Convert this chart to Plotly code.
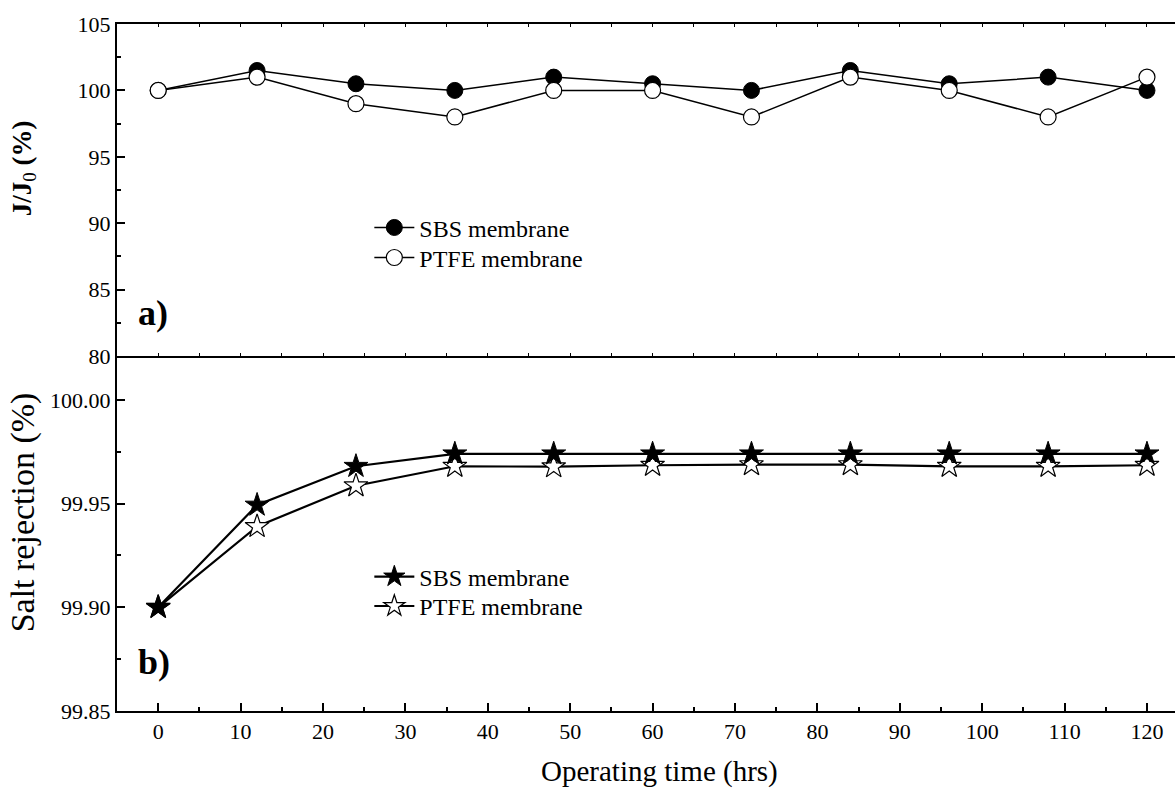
import plotly.graph_objects as go

time_hrs = [0, 12, 24, 36, 48, 60, 72, 84, 96, 108, 120]
flux_sbs = [100, 101.5, 100.5, 100, 101, 100.5, 100, 101.5, 100.5, 101, 100]
flux_ptfe = [100, 101, 99, 98, 100, 100, 98, 101, 100, 98, 101]
rej_sbs = [99.900, 99.9493, 99.968, 99.974, 99.974, 99.974, 99.974, 99.974, 99.974, 99.974, 99.974]
rej_ptfe = [99.900, 99.939, 99.9586, 99.968, 99.9678, 99.9685, 99.9688, 99.9688, 99.968, 99.968, 99.9685]

FONT = "Liberation Serif"

fig = go.Figure()

# top panel
fig.add_trace(go.Scatter(x=time_hrs, y=flux_sbs, mode="lines+markers", name="SBS membrane",
                         line=dict(color="black", width=1.5),
                         marker=dict(symbol="circle", size=16, color="black", line=dict(color="black", width=1)),
                         xaxis="x2", yaxis="y2", legend="legend"))
fig.add_trace(go.Scatter(x=time_hrs, y=flux_ptfe, mode="lines+markers", name="PTFE membrane",
                         line=dict(color="black", width=1.5),
                         marker=dict(symbol="circle", size=16, color="white", line=dict(color="black", width=1.2)),
                         xaxis="x2", yaxis="y2", legend="legend3"))
# bottom panel
fig.add_trace(go.Scatter(x=time_hrs, y=rej_ptfe, mode="lines+markers", name="PTFE membrane",
                         line=dict(color="black", width=2.2),
                         marker=dict(symbol="star", size=18, color="white", line=dict(color="black", width=1.2)),
                         xaxis="x", yaxis="y", legend="legend4"))
fig.add_trace(go.Scatter(x=time_hrs, y=rej_sbs, mode="lines+markers", name="SBS membrane",
                         line=dict(color="black", width=2.2),
                         marker=dict(symbol="star", size=18, color="black", line=dict(color="black", width=1)),
                         xaxis="x", yaxis="y", legend="legend2"))

xr = [-5, 123.4]
tickfont = dict(family=FONT, size=22, color="black")

def leg(y):
    return dict(x=0.2385, y=y, xanchor="left", yanchor="top", bgcolor="rgba(0,0,0,0)",
                font=dict(family=FONT, size=24, color="black"), tracegroupgap=0, itemwidth=40)

fig.update_layout(
    width=1175, height=792,
    margin=dict(l=117, r=0, t=24, b=81),
    plot_bgcolor="white", paper_bgcolor="white",
    font=dict(family=FONT, color="black"),
    xaxis=dict(domain=[0, 1], range=xr, anchor="y", showline=True, linecolor="black", linewidth=2,
               ticks="inside", ticklen=8, tickwidth=1.5, tickcolor="black", dtick=10, tick0=0,
               minor=dict(ticks="inside", ticklen=4, dtick=5, tickcolor="black", tickwidth=1.5),
               showgrid=False, zeroline=False, tickfont=tickfont),
    yaxis=dict(domain=[0, 0.5153], range=[99.85, 100.0207], anchor="x", showline=True, linecolor="black",
               linewidth=2, ticks="inside", ticklen=8, tickwidth=1.5, tickcolor="black",
               tickvals=[99.85, 99.90, 99.95, 100.00], ticktext=["99.85", "99.90", "99.95", "100.00"],
               minor=dict(ticks="inside", ticklen=4, tickvals=[99.875, 99.925, 99.975], tickcolor="black", tickwidth=1.5),
               showgrid=False, zeroline=False, tickfont=tickfont),
    xaxis2=dict(domain=[0, 1], range=xr, anchor="y2", showline=True, linecolor="black", linewidth=2,
                mirror="ticks", ticks="inside", ticklen=3, tickwidth=1, tickcolor="black", dtick=5, tick0=0,
                showticklabels=False, showgrid=False, zeroline=False),
    yaxis2=dict(domain=[0.5167, 1], range=[80, 105], anchor="x2", showline=True, linecolor="black",
                linewidth=2, ticks="inside", ticklen=8, tickwidth=1.5, tickcolor="black", dtick=5, tick0=80,
                minor=dict(ticks="inside", ticklen=4, dtick=2.5, tickcolor="black", tickwidth=1.5),
                showgrid=False, zeroline=False, tickfont=tickfont),
    legend=leg(0.736),
    legend3=leg(0.6923),
    legend2=leg(0.2279),
    legend4=leg(0.1850),
    showlegend=True,
)

anns = [
    dict(text="<b>a)</b>", x=0.018, y=0.58, xanchor="left", yanchor="middle", font=dict(size=36)),
    dict(text="<b>b)</b>", x=0.018, y=0.071, xanchor="left", yanchor="middle", font=dict(size=36)),
    dict(text="Operating time (hrs)", x=0.513, y=-0.088, xanchor="center", yanchor="middle", font=dict(size=29)),
    dict(text="<b>J/J</b><sub>0</sub><b> (%)</b>", x=-0.088, y=0.79, xanchor="center", yanchor="middle", textangle=-90, font=dict(size=27)),
    dict(text="Salt rejection (%)", x=-0.088, y=0.289, xanchor="center", yanchor="middle", textangle=-90, font=dict(size=34)),
]
for a in anns:
    a.update(xref="paper", yref="paper", showarrow=False)
    a["font"].update(family=FONT, color="black")
    fig.add_annotation(**a)

fig.write_html("out.html")
